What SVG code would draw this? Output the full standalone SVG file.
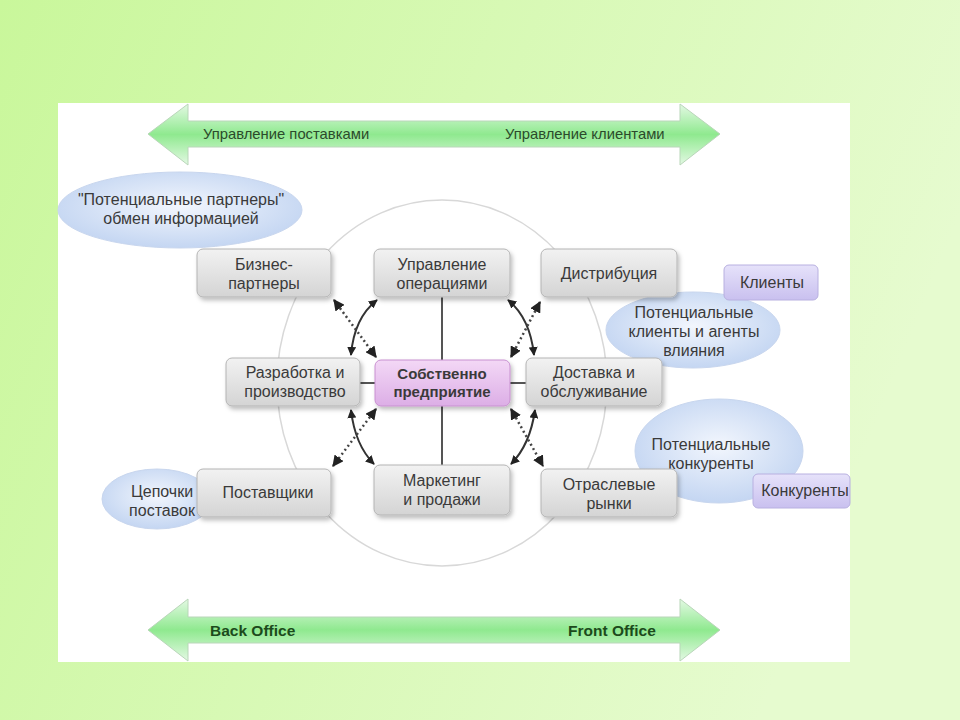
<svg xmlns="http://www.w3.org/2000/svg" width="960" height="720" viewBox="0 0 960 720">
<defs>
<linearGradient id="bg" x1="0" y1="0" x2="1" y2="0.3">
<stop offset="0" stop-color="#c9f79b"/>
<stop offset="1" stop-color="#e6fbcf"/>
</linearGradient>
<linearGradient id="arr" x1="0" y1="0" x2="0" y2="1">
<stop offset="0" stop-color="#e4f9e4"/>
<stop offset="0.5" stop-color="#8fe98f"/>
<stop offset="1" stop-color="#e4f9e4"/>
</linearGradient>
<linearGradient id="box" x1="0" y1="0" x2="0" y2="1">
<stop offset="0" stop-color="#f2f2f2"/>
<stop offset="1" stop-color="#d4d4d4"/>
</linearGradient>
<linearGradient id="pink" x1="0" y1="0" x2="0" y2="1">
<stop offset="0" stop-color="#f3d8f6"/>
<stop offset="1" stop-color="#dcaee6"/>
</linearGradient>
<linearGradient id="purp" x1="0" y1="0" x2="0" y2="1">
<stop offset="0" stop-color="#e6e2fa"/>
<stop offset="1" stop-color="#c9c0ef"/>
</linearGradient>
<radialGradient id="ell" cx="0.5" cy="0.45" r="0.6">
<stop offset="0" stop-color="#f2f6fd"/>
<stop offset="1" stop-color="#c0d3f1"/>
</radialGradient>
<filter id="sh" x="-10%" y="-10%" width="130%" height="140%">
<feDropShadow dx="2" dy="3" stdDeviation="2" flood-color="#000" flood-opacity="0.25"/>
</filter>
<marker id="ah" viewBox="0 0 10 10" refX="9" refY="5" markerWidth="4.5" markerHeight="4.5" orient="auto-start-reverse" markerUnits="strokeWidth">
<path d="M0,0 L10,5 L0,10 z" fill="#222"/>
</marker>
<style>
.t{font-family:"Liberation Sans",Arial,sans-serif;font-size:16px;fill:#3a3a3a;text-anchor:middle}
.a{font-family:"Liberation Sans",Arial,sans-serif;font-size:14.8px;fill:#2c4a2c}
.b{font-family:"Liberation Sans",Arial,sans-serif;font-size:15.5px;font-weight:bold;fill:#1c4a1c}
.bx{fill:url(#box);stroke:#b4b4b4;stroke-width:1;filter:url(#sh)}
.el{fill:url(#ell);stroke:#c8d6ee;stroke-width:1}
.pu{fill:url(#purp);stroke:#b8b0e0;stroke-width:1}
.ar{fill:url(#arr);stroke:#b9d6b9;stroke-width:1}
.sol{fill:none;stroke:#333;stroke-width:2;marker-start:url(#ah);marker-end:url(#ah)}
.dot{fill:none;stroke:#444;stroke-width:2.5;stroke-dasharray:2 3;marker-start:url(#ah);marker-end:url(#ah)}
.ln{stroke:#555;stroke-width:2}
</style>
</defs>
<rect x="0" y="0" width="960" height="720" fill="url(#bg)"/>
<rect x="58" y="103" width="792" height="559" fill="#ffffff"/>

<g id="arrow-top">
<polygon class="ar" points="148,134 188,104 188,121 680,121 680,104 720,134 680,165 680,147 188,147 188,165"/>
<text class="a" x="203" y="139">Управление поставками</text>
<text class="a" x="505" y="139">Управление клиентами</text>
</g>
<g id="arrow-bottom">
<polygon class="ar" points="148,630 188,599 188,617 680,617 680,599 720,630 680,661 680,643 188,643 188,661"/>
<text class="b" x="210" y="636">Back Office</text>
<text class="b" x="568" y="636">Front Office</text>
</g>

<ellipse id="circle" cx="442" cy="383" rx="165" ry="183" fill="none" stroke="#d8d8d8" stroke-width="1.5"/>

<g id="e-partners">
<ellipse class="el" cx="180" cy="210" rx="122" ry="38"/>
<text class="t" x="181" y="205">"Потенциальные партнеры"</text>
<text class="t" x="181" y="224">обмен информацией</text>
</g>
<g id="e-clients">
<ellipse class="el" cx="693" cy="330" rx="87" ry="38"/>
<text class="t" x="694" y="318">Потенциальные</text>
<text class="t" x="694" y="337">клиенты и агенты</text>
<text class="t" x="694" y="356">влияния</text>
</g>
<g id="e-competitors">
<ellipse class="el" cx="719" cy="451" rx="84" ry="52"/>
<text class="t" x="711" y="450">Потенциальные</text>
<text class="t" x="711" y="469">конкуренты</text>
</g>
<g id="e-chains">
<ellipse class="el" cx="157" cy="499" rx="55" ry="30"/>
<text class="t" x="162" y="497">Цепочки</text>
<text class="t" x="162" y="516">поставок</text>
</g>

<g id="klienty">
<rect class="pu" x="724" y="265" width="94" height="35" rx="5"/>
<text class="t" x="772" y="288">Клиенты</text>
</g>
<g id="konkurenty">
<rect class="pu" x="753" y="474" width="97" height="34" rx="5"/>
<text class="t" x="805" y="496">Конкуренты</text>
</g>

<g id="connectors">
<line class="ln" x1="442" y1="297" x2="442" y2="360"/>
<line class="ln" x1="442" y1="406" x2="442" y2="465"/>
<line class="ln" x1="360" y1="383" x2="375" y2="383"/>
<line class="ln" x1="510" y1="383" x2="526" y2="383"/>
<path class="sol" d="M377,300 Q354,318 351,355"/>
<path class="sol" d="M508,300 Q530,318 534,355"/>
<path class="sol" d="M351,410 Q355,445 374,464"/>
<path class="sol" d="M535,410 Q530,445 511,464"/>
<path class="dot" d="M334,300 L376,357"/>
<path class="dot" d="M540,302 L511,357"/>
<path class="dot" d="M376,409 L333,466"/>
<path class="dot" d="M511,409 L543,466"/>
</g>

<g id="n-biz">
<rect class="bx" x="197" y="249" width="134" height="48" rx="6"/>
<text class="t" x="264" y="270">Бизнес-</text>
<text class="t" x="264" y="289">партнеры</text>
</g>
<g id="n-ops">
<rect class="bx" x="374" y="249" width="136" height="48" rx="6"/>
<text class="t" x="442" y="270">Управление</text>
<text class="t" x="442" y="289">операциями</text>
</g>
<g id="n-distr">
<rect class="bx" x="541" y="249" width="136" height="48" rx="6"/>
<text class="t" x="609" y="279">Дистрибуция</text>
</g>
<g id="n-dev">
<rect class="bx" x="226" y="358" width="134" height="48" rx="6"/>
<text class="t" x="295" y="378">Разработка и</text>
<text class="t" x="295" y="397">производство</text>
</g>
<g id="n-center">
<rect x="375" y="360" width="135" height="46" rx="6" fill="url(#pink)" stroke="#c890d0" stroke-width="1" filter="url(#sh)"/>
<text class="t" x="442" y="379" style="font-weight:bold;font-size:15px">Собственно</text>
<text class="t" x="442" y="397" style="font-weight:bold;font-size:15px">предприятие</text>
</g>
<g id="n-deliv">
<rect class="bx" x="526" y="358" width="136" height="48" rx="6"/>
<text class="t" x="594" y="378">Доставка и</text>
<text class="t" x="594" y="397">обслуживание</text>
</g>
<g id="n-supp">
<rect class="bx" x="197" y="469" width="134" height="48" rx="6"/>
<text class="t" x="268" y="498">Поставщики</text>
</g>
<g id="n-mkt">
<rect class="bx" x="374" y="465" width="136" height="50" rx="6"/>
<text class="t" x="442" y="486">Маркетинг</text>
<text class="t" x="442" y="505">и продажи</text>
</g>
<g id="n-markets">
<rect class="bx" x="541" y="469" width="136" height="48" rx="6"/>
<text class="t" x="609" y="490">Отраслевые</text>
<text class="t" x="609" y="509">рынки</text>
</g>
</svg>
